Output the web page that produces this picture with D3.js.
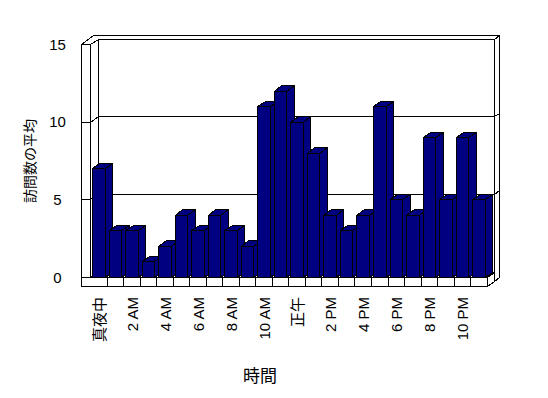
<!DOCTYPE html>
<html>
<head>
<meta charset="utf-8">
<script src="https://cdn.jsdelivr.net/npm/d3@7/dist/d3.min.js"></script>
<style>
html,body{margin:0;padding:0;background:#fff;}
svg{display:block;}
text{font-family:"Liberation Sans","Noto Sans CJK JP",sans-serif;fill:#000;}
</style>
</head>
<body>
<svg id="chart" width="548" height="398"></svg>
<script>
const categories = ["真夜中","1 AM","2 AM","3 AM","4 AM","5 AM","6 AM","7 AM","8 AM","9 AM","10 AM","11 AM",
  "正午","1 PM","2 PM","3 PM","4 PM","5 PM","6 PM","7 PM","8 PM","9 PM","10 PM","11 PM"];
const values = [7,3,3,1,2,4,3,4,3,2,11,12,10,8,4,3,4,11,5,4,9,5,9,5];
const tickLabels = ["真夜中","2 AM","4 AM","6 AM","8 AM","10 AM","正午","2 PM","4 PM","6 PM","8 PM","10 PM"];
const yTicks = [0,5,10,15];
const yTitle = "訪問数の平均";
const xTitle = "時間";

const svg = d3.select("#chart");
const DX = 7.5, DY = -5.5;      // depth projection of plot
const T = 0.62;                 // back wall thickness (in depth units)
const xOL = 81, xL = 90, xR = 486.7;
const floorH = 9;

const y = d3.scaleLinear().domain([0,15]).range([277,44]);
const xCell = d3.scaleBand().domain(categories).range([xL,xR]).padding(0);
const xBar = d3.scaleBand().domain(categories).range([xL,xR]).paddingInner(0.24).paddingOuter(0.12);

const y0 = y(0), yTop = y(15), yBot = y0 + floorH;
function pt(x,yy,z){ return [Math.round(x + z*DX)+0.5, Math.round(yy + z*DY)+0.5]; }
function poly(pts, fill){
  svg.append("polygon").attr("points", pts.map(p=>p.join(",")).join(" "))
    .attr("fill", fill).attr("stroke","#000").attr("stroke-width",1)
    .attr("stroke-linejoin","miter").attr("shape-rendering","crispEdges");
}
function line(pts){
  svg.append("polyline").attr("points", pts.map(p=>p.join(",")).join(" "))
    .attr("fill","none").attr("stroke","#000").attr("stroke-width",1).attr("shape-rendering","crispEdges");
}
const Z1 = 1, Z2 = 1 + T;

// back wall front face
poly([pt(xL,yTop,Z1),pt(xR,yTop,Z1),pt(xR,yBot,Z1),pt(xL,yBot,Z1)],"#fff");
// top of left + back walls
poly([pt(xOL,yTop,0),pt(xL,yTop,0),pt(xL,yTop,Z1),pt(xR,yTop,Z1),pt(xR,yTop,Z2),pt(xOL,yTop,Z2)],"#fff");
// back wall right face
poly([pt(xR,yTop,Z1),pt(xR,yTop,Z2),pt(xR,yBot,Z2),pt(xR,yBot,Z1)],"#fff");
// floor right face
poly([pt(xR,y0,0),pt(xR,y0,Z1),pt(xR,yBot,Z1),pt(xR,yBot,0)],"#fff");
// left wall inner face
poly([pt(xL,yTop,0),pt(xL,yTop,Z1),pt(xL,y0,Z1),pt(xL,y0,0)],"#fff");
// floor top face
poly([pt(xL,y0,0),pt(xR,y0,0),pt(xR,y0,Z1),pt(xL,y0,Z1)],"#fff");

// gridlines
yTicks.filter(v=>v>0 && v<15).forEach(v=>{
  const yy = y(v);
  line([pt(xL,yy,0),pt(xL,yy,Z1),pt(xR,yy,Z1),pt(xR,yy,Z2)]);
});

// bars
const navy = "#000080";
categories.forEach((c,i)=>{
  const v = values[i];
  const x0 = xBar(c), x1 = x0 + xBar.bandwidth();
  const yT = y(v);
  poly([pt(x0,yT,0),pt(x1,yT,0),pt(x1,y0,0),pt(x0,y0,0)],navy);
  poly([pt(x0,yT,0),pt(x1,yT,0),pt(x1,yT,Z1),pt(x0,yT,Z1)],navy);
  poly([pt(x1,yT,0),pt(x1,yT,Z1),pt(x1,y0,Z1),pt(x1,y0,0)],navy);
});

// left wall front face
poly([pt(xOL,yTop,0),pt(xL,yTop,0),pt(xL,y0,0),pt(xOL,y0,0)],"#fff");
yTicks.forEach(v=>{ line([pt(xOL,y(v),0),pt(xL,y(v),0)]); });
// floor front face
poly([pt(xOL,y0,0),pt(xR,y0,0),pt(xR,yBot,0),pt(xOL,yBot,0)],"#fff");
categories.forEach((c,i)=>{
  if(i===0) return;
  const xx = xCell(c);
  line([pt(xx,y0,0),pt(xx,yBot,0)]);
});

// y tick labels
svg.append("g").selectAll("text").data(yTicks).join("text")
  .attr("x",57.5).attr("y",d=>y(d)).attr("text-anchor","middle")
  .attr("dominant-baseline","central").attr("font-size",15).text(d=>d);

// x tick labels
svg.append("g").selectAll("text").data(tickLabels).join("text")
  .attr("transform",d=>`translate(${xCell(d)+xCell.bandwidth()/2+1},297) rotate(-90)`)
  .attr("text-anchor","end").attr("dominant-baseline","central")
  .attr("font-size",15).text(d=>d);

// axis titles
svg.append("text").attr("transform","translate(30,161) rotate(-90)")
  .attr("text-anchor","middle").attr("dominant-baseline","central")
  .attr("font-size",14).text(yTitle);
svg.append("text").attr("x",260).attr("y",376)
  .attr("text-anchor","middle").attr("dominant-baseline","central")
  .attr("font-size",17).text(xTitle);
</script>
</body>
</html>
